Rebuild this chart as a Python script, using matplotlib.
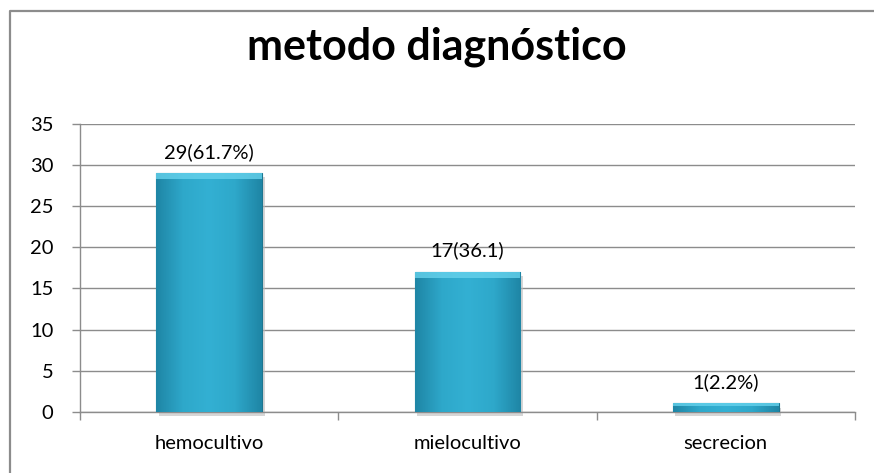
#!/usr/bin/env python3
# -*- coding: utf-8 -*-
"""Bar chart: metodo diagnostico."""

import numpy as np
import matplotlib
matplotlib.use("Agg")
import matplotlib.pyplot as plt
from matplotlib.colors import LinearSegmentedColormap
from matplotlib.patches import Rectangle
from matplotlib.lines import Line2D

categories = ['hemocultivo', 'mielocultivo', 'secrecion']
counts = [29, 17, 1]
bar_labels = ['29(61.7%)', '17(36.1)', '1(2.2%)']
y_ticks = [0, 5, 10, 15, 20, 25, 30, 35]

plt.rcParams['font.family'] = ['Lato', 'DejaVu Sans']

fig = plt.figure(figsize=(8.74, 4.73), dpi=100)
ax = fig.add_axes([0.0915, 0.1296, 0.8867, 0.6082])

# Chart frame: only the top and left edges are visible (the rest is cropped)
fig.lines.append(Line2D([0.0115, 0.0115, 1.0], [0.0, 0.977, 0.977], transform=fig.transFigure,
                        color='#8c8c8c', linewidth=1.6))

x = np.arange(len(categories))
bars = ax.bar(x, counts, width=0.41, color='#2fa9cb', edgecolor='#1d7690',
              linewidth=0.8, zorder=3)

# Gradient fill, darker at the sides like the bevel effect
cmap = LinearSegmentedColormap.from_list('bev', ['#1f86a6', '#2ea8ca', '#33b0d3', '#2ea8ca', '#1f86a6'])
grad = np.linspace(0, 1, 64).reshape(1, -1)
for b in bars:
    x0, w, h = b.get_x(), b.get_width(), b.get_height()
    im = ax.imshow(grad, cmap=cmap, aspect='auto', extent=(x0, x0 + w, 0, h), zorder=3.5)
    im.set_clip_path(b)
    # light bevel on top
    bev = min(0.7, h * 0.35)
    ax.add_patch(Rectangle((x0, h - bev), w, bev, facecolor='#66d2ec',
                           edgecolor='none', alpha=0.8, zorder=3.6))
    # drop shadow
    ax.add_patch(Rectangle((x0 + 0.01, -0.5), w, h, facecolor='#bbbbbb',
                           edgecolor='none', alpha=0.6, zorder=2, clip_on=False))

for xi, v, lab in zip(x, counts, bar_labels):
    ax.annotate(lab, (xi, v), xytext=(0, 9), textcoords='offset points',
                ha='center', va='bottom', fontsize=14.5, color='#000000')

ax.set_xlim(-0.5, len(categories) - 0.5)
ax.set_ylim(0, 35)
ax.set_yticks(y_ticks)
ax.set_yticklabels([str(t) for t in y_ticks], fontsize=14.5)
ax.yaxis.grid(True, color='#8c8c8c', linewidth=1.0, zorder=0)
ax.set_axisbelow(True)

ax.set_xticks(x)
ax.set_xticklabels(categories, fontsize=14.5)
ax.tick_params(axis='x', length=0, pad=17)
ax.set_xticks(np.arange(len(categories) + 1) - 0.5, minor=True)
ax.tick_params(axis='x', which='minor', length=6, color='#8c8c8c', width=1.0, direction='out')
ax.tick_params(axis='y', length=6, color='#8c8c8c', width=1.0, direction='out', pad=13)

for side in ['top', 'right']:
    ax.spines[side].set_visible(False)
for side in ['left', 'bottom']:
    ax.spines[side].set_color('#8c8c8c')
    ax.spines[side].set_linewidth(1.0)

fig.text(0.5, 0.902, 'metodo diagnóstico', ha='center', va='center',
         fontsize=31, fontweight='bold')

plt.savefig('out.png', dpi=100)
